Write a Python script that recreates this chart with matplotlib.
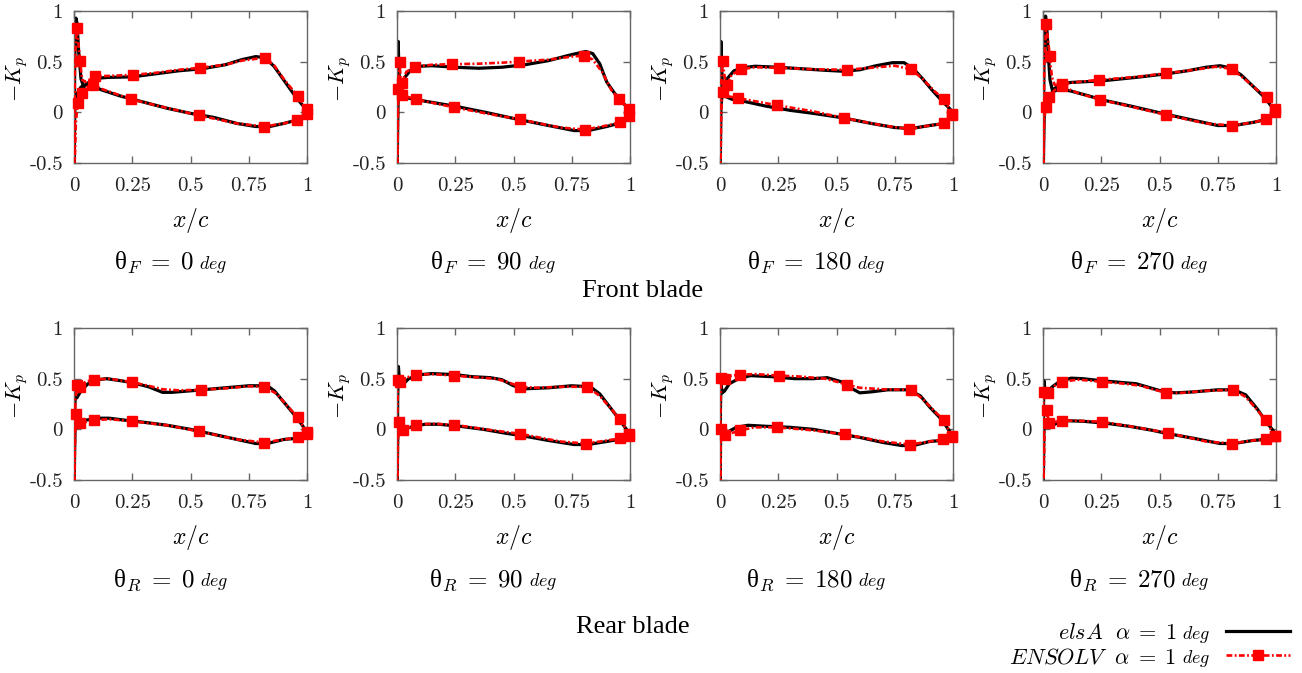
"""Front/rear blade -Kp distributions, elsA vs ENSOLV, alpha = 1 deg."""

import matplotlib

matplotlib.use("Agg")
import matplotlib.pyplot as plt
import numpy as np
from matplotlib.lines import Line2D

plt.rcParams["font.family"] = ["Liberation Serif", "DejaVu Serif"]
plt.rcParams["mathtext.fontset"] = "cm"

X_TICKS = [0.0, 0.25, 0.5, 0.75, 1.0]
X_TICK_LABELS = ["0", "0.25", "0.5", "0.75", "1"]
Y_TICKS = [-0.5, 0.0, 0.5, 1.0]
Y_TICK_LABELS = ["-0.5", "0", "0.5", "1"]

ANGLES = ["0", "90", "180", "270"]

# ---- front blade, theta_F = 0
F0_ELSA_UPPER = [(0.0, -0.8), (0.003, 0.5), (0.008, 0.93), (0.013, 0.88), (0.02, 0.6), (0.03, 0.33),
                 (0.042, 0.25), (0.06, 0.29), (0.09, 0.335), (0.15, 0.345), (0.25, 0.35), (0.35, 0.38),
                 (0.45, 0.41), (0.55, 0.43), (0.65, 0.47), (0.72, 0.52), (0.78, 0.55), (0.82, 0.54),
                 (0.86, 0.45), (0.9, 0.32), (0.94, 0.19), (0.97, 0.1), (1.0, 0.02)]
F0_ELSA_LOWER = [(0.0, -0.8), (0.003, 0.0), (0.008, 0.12), (0.015, 0.19), (0.03, 0.25), (0.05, 0.27),
                 (0.08, 0.26), (0.12, 0.22), (0.2, 0.16), (0.3, 0.1), (0.4, 0.04), (0.5, -0.01),
                 (0.6, -0.05), (0.7, -0.11), (0.78, -0.14), (0.84, -0.14), (0.9, -0.11), (0.95, -0.08),
                 (0.98, -0.04), (1.0, 0.0)]
F0_ENSOLV_UPPER = [(0.0, -0.8), (0.004, 0.5), (0.011, 0.83), (0.018, 0.7), (0.026, 0.51), (0.035, 0.32),
                   (0.05, 0.3), (0.09, 0.355), (0.15, 0.36), (0.255, 0.37), (0.35, 0.39), (0.45, 0.42),
                   (0.54, 0.44), (0.65, 0.47), (0.72, 0.51), (0.82, 0.54), (0.86, 0.46), (0.9, 0.33),
                   (0.96, 0.16), (1.0, 0.03)]
F0_ENSOLV_LOWER = [(0.0, -0.8), (0.008, -0.1), (0.016, 0.09), (0.033, 0.19), (0.055, 0.25), (0.083, 0.27),
                   (0.12, 0.23), (0.245, 0.13), (0.35, 0.07), (0.535, -0.03), (0.7, -0.11), (0.815, -0.14),
                   (0.9, -0.11), (0.955, -0.08), (1.0, -0.02)]
F0_ENSOLV_MARKS = [(0.011, 0.83), (0.026, 0.51), (0.09, 0.355), (0.255, 0.37), (0.54, 0.44), (0.82, 0.54),
                   (0.96, 0.16), (1.0, 0.03), (0.016, 0.09), (0.033, 0.19), (0.083, 0.27), (0.245, 0.13),
                   (0.535, -0.03), (0.815, -0.14), (0.955, -0.08), (1.0, -0.02)]

# ---- front blade, theta_F = 90
F90_ELSA_UPPER = [(0.0, -0.8), (0.003, 0.3), (0.005, 0.7), (0.008, 0.45), (0.012, 0.22), (0.02, 0.27),
                  (0.035, 0.35), (0.06, 0.42), (0.1, 0.455), (0.15, 0.46), (0.25, 0.445), (0.35, 0.435),
                  (0.45, 0.445), (0.55, 0.47), (0.65, 0.51), (0.75, 0.57), (0.81, 0.6), (0.84, 0.58),
                  (0.87, 0.48), (0.9, 0.3), (0.93, 0.2), (0.96, 0.11), (1.0, 0.03)]
F90_ELSA_LOWER = [(0.0, -0.8), (0.004, 0.1), (0.01, 0.2), (0.03, 0.15), (0.07, 0.13), (0.12, 0.11),
                  (0.25, 0.06), (0.38, 0.0), (0.52, -0.07), (0.65, -0.13), (0.76, -0.18), (0.82, -0.18),
                  (0.9, -0.14), (0.95, -0.11), (1.0, -0.04)]
F90_ENSOLV_UPPER = [(0.0, -0.8), (0.006, 0.3), (0.011, 0.5), (0.015, 0.35), (0.02, 0.29), (0.04, 0.4),
                    (0.076, 0.45), (0.15, 0.47), (0.238, 0.475), (0.35, 0.48), (0.45, 0.49), (0.524, 0.5),
                    (0.65, 0.52), (0.75, 0.55), (0.804, 0.56), (0.84, 0.52), (0.88, 0.4), (0.92, 0.22),
                    (0.953, 0.13), (0.997, 0.03)]
F90_ENSOLV_LOWER = [(0.0, -0.8), (0.003, 0.1), (0.006, 0.23), (0.02, 0.17), (0.08, 0.13), (0.16, 0.09),
                    (0.244, 0.05), (0.38, -0.01), (0.527, -0.07), (0.7, -0.15), (0.808, -0.17), (0.9, -0.13),
                    (0.957, -0.1), (0.997, -0.04)]
F90_ENSOLV_MARKS = [(0.011, 0.5), (0.02, 0.29), (0.076, 0.45), (0.238, 0.475), (0.524, 0.5), (0.804, 0.56),
                    (0.953, 0.13), (0.997, 0.03), (0.006, 0.23), (0.02, 0.17), (0.08, 0.13), (0.244, 0.05),
                    (0.527, -0.07), (0.808, -0.17), (0.957, -0.1), (0.997, -0.04)]

# ---- front blade, theta_F = 180
F180_ELSA_UPPER = [(0.0, -0.8), (0.002, 0.3), (0.004, 0.7), (0.007, 0.45), (0.012, 0.18), (0.02, 0.25),
                   (0.03, 0.33), (0.06, 0.41), (0.1, 0.44), (0.15, 0.455), (0.25, 0.445), (0.35, 0.43),
                   (0.45, 0.415), (0.53, 0.405), (0.6, 0.42), (0.67, 0.46), (0.74, 0.49), (0.79, 0.49),
                   (0.83, 0.43), (0.87, 0.33), (0.91, 0.22), (0.95, 0.12), (0.98, 0.05), (1.0, 0.0)]
F180_ELSA_LOWER = [(0.0, -0.8), (0.004, 0.05), (0.01, 0.2), (0.02, 0.16), (0.05, 0.13), (0.1, 0.11),
                   (0.2, 0.06), (0.3, 0.02), (0.4, -0.01), (0.53, -0.055), (0.65, -0.11), (0.75, -0.15),
                   (0.82, -0.16), (0.9, -0.13), (0.96, -0.11), (1.0, -0.03)]
F180_ENSOLV_UPPER = [(0.0, -0.8), (0.005, 0.3), (0.011, 0.51), (0.02, 0.35), (0.029, 0.27), (0.05, 0.37),
                     (0.09, 0.425), (0.15, 0.445), (0.254, 0.44), (0.4, 0.425), (0.544, 0.42), (0.65, 0.44),
                     (0.75, 0.46), (0.82, 0.425), (0.87, 0.33), (0.92, 0.21), (0.961, 0.13), (0.997, -0.02)]
F180_ENSOLV_LOWER = [(0.0, -0.8), (0.006, 0.1), (0.014, 0.2), (0.03, 0.16), (0.079, 0.14), (0.15, 0.11),
                     (0.244, 0.07), (0.4, 0.01), (0.531, -0.055), (0.7, -0.13), (0.813, -0.165), (0.9, -0.13),
                     (0.96, -0.11), (0.997, -0.03)]
F180_ENSOLV_MARKS = [(0.011, 0.51), (0.029, 0.27), (0.09, 0.425), (0.254, 0.44), (0.544, 0.42), (0.82, 0.425),
                     (0.961, 0.13), (0.997, -0.02), (0.014, 0.2), (0.079, 0.14), (0.244, 0.07), (0.531, -0.055),
                     (0.813, -0.165), (0.96, -0.11), (0.997, -0.03)]

# ---- front blade, theta_F = 270
F270_ELSA_UPPER = [(0.0, -0.8), (0.004, 0.5), (0.011, 0.95), (0.016, 0.85), (0.022, 0.6), (0.03, 0.32),
                   (0.04, 0.22), (0.06, 0.25), (0.08, 0.28), (0.12, 0.295), (0.25, 0.31), (0.4, 0.345),
                   (0.53, 0.38), (0.62, 0.41), (0.7, 0.445), (0.76, 0.46), (0.8, 0.44), (0.85, 0.37),
                   (0.9, 0.26), (0.95, 0.15), (0.98, 0.06), (1.0, 0.02)]
F270_ELSA_LOWER = [(0.0, -0.8), (0.005, 0.0), (0.015, 0.1), (0.04, 0.2), (0.07, 0.23), (0.12, 0.21),
                   (0.2, 0.16), (0.25, 0.125), (0.38, 0.06), (0.53, -0.02), (0.65, -0.08), (0.75, -0.13),
                   (0.82, -0.13), (0.9, -0.1), (0.96, -0.07), (1.0, 0.0)]
F270_ENSOLV_UPPER = [(0.0, -0.8), (0.006, 0.5), (0.014, 0.87), (0.02, 0.75), (0.029, 0.56), (0.038, 0.35),
                     (0.05, 0.27), (0.083, 0.28), (0.15, 0.3), (0.24, 0.32), (0.4, 0.35), (0.527, 0.385),
                     (0.65, 0.42), (0.74, 0.45), (0.81, 0.43), (0.87, 0.32), (0.92, 0.22), (0.96, 0.15),
                     (0.996, 0.03)]
F270_ENSOLV_LOWER = [(0.0, -0.8), (0.005, -0.1), (0.011, 0.05), (0.026, 0.15), (0.05, 0.22), (0.083, 0.255),
                     (0.15, 0.19), (0.245, 0.125), (0.38, 0.055), (0.53, -0.026), (0.7, -0.11), (0.81, -0.13),
                     (0.9, -0.1), (0.957, -0.07), (0.996, 0.0)]
F270_ENSOLV_MARKS = [(0.014, 0.87), (0.029, 0.56), (0.083, 0.28), (0.24, 0.32), (0.527, 0.385), (0.81, 0.43),
                     (0.96, 0.15), (0.996, 0.03), (0.011, 0.05), (0.026, 0.15), (0.083, 0.255), (0.245, 0.125),
                     (0.53, -0.026), (0.81, -0.13), (0.957, -0.07), (0.996, 0.0)]

# ---- rear blade, theta_R = 0
R0_ELSA_UPPER = [(0.0, -0.8), (0.003, 0.2), (0.006, 0.35), (0.012, 0.31), (0.03, 0.38), (0.06, 0.45),
                 (0.1, 0.49), (0.14, 0.5), (0.2, 0.48), (0.25, 0.46), (0.32, 0.42), (0.38, 0.365),
                 (0.42, 0.365), (0.5, 0.38), (0.55, 0.39), (0.65, 0.41), (0.75, 0.43), (0.83, 0.43),
                 (0.86, 0.38), (0.9, 0.27), (0.94, 0.16), (0.98, 0.04), (1.0, -0.04)]
R0_ELSA_LOWER = [(0.0, -0.8), (0.004, 0.05), (0.01, 0.08), (0.05, 0.09), (0.1, 0.11), (0.15, 0.11),
                 (0.22, 0.09), (0.3, 0.07), (0.4, 0.04), (0.5, 0.0), (0.6, -0.05), (0.7, -0.1),
                 (0.78, -0.14), (0.83, -0.14), (0.9, -0.1), (0.95, -0.09), (1.0, -0.05)]
R0_ENSOLV_UPPER = [(0.0, -0.8), (0.006, 0.3), (0.014, 0.44), (0.025, 0.42), (0.05, 0.47), (0.087, 0.49),
                   (0.15, 0.5), (0.25, 0.465), (0.32, 0.43), (0.38, 0.395), (0.45, 0.385), (0.543, 0.39),
                   (0.65, 0.405), (0.75, 0.425), (0.817, 0.42), (0.87, 0.35), (0.92, 0.22), (0.96, 0.12),
                   (1.0, -0.03)]
R0_ENSOLV_LOWER = [(0.0, -0.8), (0.005, 0.05), (0.01, 0.15), (0.025, 0.06), (0.084, 0.09), (0.15, 0.1),
                   (0.25, 0.08), (0.4, 0.04), (0.535, -0.02), (0.7, -0.1), (0.814, -0.13), (0.9, -0.1),
                   (0.96, -0.08), (1.0, -0.05)]
R0_ENSOLV_MARKS = [(0.014, 0.44), (0.025, 0.42), (0.087, 0.49), (0.25, 0.465), (0.543, 0.39), (0.817, 0.42),
                   (0.96, 0.12), (1.0, -0.03), (0.01, 0.15), (0.025, 0.06), (0.084, 0.09), (0.25, 0.08),
                   (0.535, -0.02), (0.814, -0.13), (0.96, -0.08), (1.0, -0.05)]

# ---- rear blade, theta_R = 90
R90_ELSA_UPPER = [(0.0, -0.8), (0.003, 0.3), (0.006, 0.62), (0.01, 0.5), (0.02, 0.43), (0.05, 0.5),
                  (0.1, 0.54), (0.15, 0.55), (0.25, 0.54), (0.32, 0.52), (0.4, 0.51), (0.45, 0.49),
                  (0.5, 0.43), (0.55, 0.4), (0.65, 0.41), (0.75, 0.43), (0.83, 0.42), (0.87, 0.35),
                  (0.92, 0.2), (0.96, 0.08), (1.0, -0.05)]
R90_ELSA_LOWER = [(0.0, -0.8), (0.003, -0.1), (0.006, 0.06), (0.015, -0.01), (0.03, 0.0), (0.07, 0.03),
                  (0.12, 0.05), (0.18, 0.05), (0.27, 0.03), (0.37, 0.0), (0.47, -0.04), (0.53, -0.06),
                  (0.65, -0.11), (0.76, -0.15), (0.82, -0.15), (0.9, -0.12), (0.95, -0.1), (1.0, -0.06)]
R90_ENSOLV_UPPER = [(0.0, -0.8), (0.002, 0.2), (0.004, 0.49), (0.015, 0.47), (0.04, 0.51), (0.08, 0.54),
                    (0.15, 0.545), (0.245, 0.53), (0.33, 0.515), (0.42, 0.5), (0.47, 0.47), (0.53, 0.42),
                    (0.6, 0.41), (0.7, 0.42), (0.817, 0.42), (0.87, 0.33), (0.92, 0.2), (0.956, 0.1),
                    (0.997, -0.05)]
R90_ENSOLV_LOWER = [(0.0, -0.8), (0.004, -0.1), (0.008, 0.07), (0.025, -0.01), (0.08, 0.045), (0.15, 0.055),
                    (0.245, 0.045), (0.38, 0.0), (0.53, -0.045), (0.7, -0.12), (0.81, -0.14), (0.9, -0.11),
                    (0.957, -0.09), (0.997, -0.07)]
R90_ENSOLV_MARKS = [(0.004, 0.49), (0.015, 0.47), (0.08, 0.54), (0.245, 0.53), (0.53, 0.42), (0.817, 0.42),
                    (0.956, 0.1), (0.997, -0.05), (0.008, 0.07), (0.025, -0.01), (0.08, 0.045), (0.245, 0.045),
                    (0.53, -0.045), (0.81, -0.14), (0.957, -0.09), (0.997, -0.07)]

# ---- rear blade, theta_R = 180
R180_ELSA_UPPER = [(0.0, -0.8), (0.002, 0.2), (0.004, 0.45), (0.01, 0.36), (0.02, 0.38), (0.04, 0.45),
                   (0.08, 0.5), (0.13, 0.53), (0.22, 0.52), (0.32, 0.5), (0.4, 0.5), (0.46, 0.51),
                   (0.52, 0.47), (0.56, 0.41), (0.6, 0.36), (0.65, 0.37), (0.72, 0.39), (0.81, 0.39),
                   (0.86, 0.33), (0.9, 0.22), (0.95, 0.1), (0.98, 0.0), (1.0, -0.06)]
R180_ELSA_LOWER = [(0.0, -0.8), (0.003, 0.0), (0.015, -0.06), (0.03, -0.03), (0.07, 0.02), (0.12, 0.04),
                   (0.2, 0.03), (0.3, 0.02), (0.4, 0.0), (0.5, -0.04), (0.6, -0.08), (0.7, -0.13),
                   (0.78, -0.16), (0.83, -0.16), (0.9, -0.12), (0.95, -0.11), (1.0, -0.07)]
R180_ENSOLV_UPPER = [(0.0, -0.8), (0.002, 0.2), (0.005, 0.51), (0.02, 0.5), (0.05, 0.53), (0.085, 0.54),
                     (0.15, 0.545), (0.255, 0.53), (0.35, 0.52), (0.45, 0.5), (0.5, 0.47), (0.545, 0.44),
                     (0.6, 0.41), (0.7, 0.395), (0.82, 0.39), (0.87, 0.3), (0.92, 0.18), (0.96, 0.09),
                     (0.997, -0.07)]
R180_ENSOLV_LOWER = [(0.0, -0.8), (0.003, 0.0), (0.02, -0.06), (0.085, -0.01), (0.15, 0.02), (0.245, 0.02),
                     (0.4, -0.01), (0.535, -0.05), (0.7, -0.12), (0.815, -0.15), (0.9, -0.12), (0.955, -0.1),
                     (0.997, -0.08)]
R180_ENSOLV_MARKS = [(0.005, 0.51), (0.02, 0.5), (0.085, 0.54), (0.255, 0.53), (0.545, 0.44), (0.82, 0.39),
                     (0.96, 0.09), (0.997, -0.07), (0.003, 0.0), (0.02, -0.06), (0.085, -0.01), (0.245, 0.02),
                     (0.535, -0.05), (0.815, -0.15), (0.955, -0.1), (0.997, -0.08)]

# ---- rear blade, theta_R = 270
R270_ELSA_UPPER = [(0.0, -0.8), (0.002, 0.2), (0.004, 0.48), (0.01, 0.36), (0.02, 0.37), (0.04, 0.42),
                   (0.07, 0.47), (0.12, 0.505), (0.17, 0.5), (0.25, 0.48), (0.35, 0.46), (0.4, 0.45),
                   (0.46, 0.41), (0.52, 0.37), (0.57, 0.36), (0.65, 0.37), (0.75, 0.39), (0.82, 0.39),
                   (0.87, 0.34), (0.92, 0.2), (0.95, 0.1), (0.99, -0.02), (1.0, -0.06)]
R270_ELSA_LOWER = [(0.0, -0.8), (0.004, 0.0), (0.01, 0.05), (0.02, 0.02), (0.06, 0.06), (0.1, 0.085),
                   (0.17, 0.08), (0.27, 0.06), (0.37, 0.03), (0.47, -0.01), (0.53, -0.04), (0.65, -0.09),
                   (0.76, -0.14), (0.82, -0.14), (0.9, -0.11), (0.95, -0.1), (1.0, -0.06)]
R270_ENSOLV_UPPER = [(0.0, -0.8), (0.002, 0.1), (0.004, 0.37), (0.02, 0.36), (0.05, 0.43), (0.083, 0.47),
                     (0.15, 0.49), (0.253, 0.47), (0.35, 0.45), (0.42, 0.43), (0.48, 0.39), (0.53, 0.36),
                     (0.6, 0.36), (0.7, 0.38), (0.817, 0.39), (0.87, 0.32), (0.92, 0.19), (0.955, 0.09),
                     (0.997, -0.07)]
R270_ENSOLV_LOWER = [(0.0, -0.8), (0.008, 0.1), (0.016, 0.19), (0.026, 0.065), (0.083, 0.085), (0.15, 0.085),
                     (0.253, 0.075), (0.4, 0.02), (0.535, -0.035), (0.7, -0.12), (0.81, -0.14), (0.9, -0.11),
                     (0.955, -0.1), (0.997, -0.07)]
R270_ENSOLV_MARKS = [(0.004, 0.37), (0.02, 0.36), (0.083, 0.47), (0.253, 0.47), (0.53, 0.36), (0.817, 0.39),
                     (0.955, 0.09), (0.997, -0.07), (0.016, 0.19), (0.026, 0.065), (0.083, 0.085), (0.253, 0.075),
                     (0.535, -0.035), (0.81, -0.14), (0.955, -0.1), (0.997, -0.07)]

FRONT_PANELS = [
    (F0_ELSA_UPPER, F0_ELSA_LOWER, F0_ENSOLV_UPPER, F0_ENSOLV_LOWER, F0_ENSOLV_MARKS),
    (F90_ELSA_UPPER, F90_ELSA_LOWER, F90_ENSOLV_UPPER, F90_ENSOLV_LOWER, F90_ENSOLV_MARKS),
    (F180_ELSA_UPPER, F180_ELSA_LOWER, F180_ENSOLV_UPPER, F180_ENSOLV_LOWER, F180_ENSOLV_MARKS),
    (F270_ELSA_UPPER, F270_ELSA_LOWER, F270_ENSOLV_UPPER, F270_ENSOLV_LOWER, F270_ENSOLV_MARKS),
]
REAR_PANELS = [
    (R0_ELSA_UPPER, R0_ELSA_LOWER, R0_ENSOLV_UPPER, R0_ENSOLV_LOWER, R0_ENSOLV_MARKS),
    (R90_ELSA_UPPER, R90_ELSA_LOWER, R90_ENSOLV_UPPER, R90_ENSOLV_LOWER, R90_ENSOLV_MARKS),
    (R180_ELSA_UPPER, R180_ELSA_LOWER, R180_ENSOLV_UPPER, R180_ENSOLV_LOWER, R180_ENSOLV_MARKS),
    (R270_ELSA_UPPER, R270_ELSA_LOWER, R270_ENSOLV_UPPER, R270_ENSOLV_LOWER, R270_ENSOLV_MARKS),
]

FIG_W, FIG_H = 1302, 673
AX_LEFTS = [74, 397, 720, 1043]
AX_W, AX_H = 233, 152
ROW_TOPS = [11, 328]
FRAME_COLOR = "#666666"
RED = "#ff0000"
RED_DASHES = (2.2, 0.9, 0.7, 0.9)
MARKER_SIZE = 7.0


def closed_loop(upper, lower):
    """上面(後縁→前縁)と下面(前縁→後縁)をつないだ座標列。"""
    up = np.array(upper)[::-1]
    lo = np.array(lower)
    xy = np.vstack([up, lo[1:]])
    return xy[:, 0], xy[:, 1]


def style_axes(ax):
    ax.set_xlim(0.0, 1.0)
    ax.set_ylim(-0.5, 1.0)
    ax.set_xticks(X_TICKS)
    ax.set_xticklabels(X_TICK_LABELS, fontfamily="cmr10", fontsize=15)
    ax.set_yticks(Y_TICKS)
    ax.set_yticklabels(Y_TICK_LABELS, fontfamily="cmr10", fontsize=15)
    ax.tick_params(axis="both", direction="in", top=True, right=True, length=5,
                   width=1.0, color=FRAME_COLOR, labelcolor="#222222")
    ax.tick_params(axis="x", pad=10)
    ax.tick_params(axis="y", pad=8)
    for spine in ax.spines.values():
        spine.set_color(FRAME_COLOR)
        spine.set_linewidth(1.0)
    ax.set_xlabel(r"$x/c$", fontsize=17)
    ax.xaxis.set_label_coords(0.5, -0.28)
    ax.set_ylabel(r"$-K_p$", fontsize=16)
    ax.yaxis.set_label_coords(-0.19, 0.55)


def draw_panel(ax, elsa_upper, elsa_lower, ens_upper, ens_lower, ens_marks):
    ex, ey = closed_loop(elsa_upper, elsa_lower)
    ax.plot(ex, ey, color="black", lw=2.3, zorder=2)
    nx, ny = closed_loop(ens_upper, ens_lower)
    ax.plot(nx, ny, color=RED, lw=1.9, dashes=RED_DASHES, zorder=3)
    marks = np.array(ens_marks)
    ax.plot(marks[:, 0], marks[:, 1], ls="none", marker="s", ms=MARKER_SIZE,
            color=RED, zorder=4, clip_on=False)
    style_axes(ax)


def add_subtitle(ax, blade, angle):
    y_base = -0.70
    main = ax.text(0.5 - 37.0 / AX_W, y_base, "θ$_{%s}\\;=\\;%s$" % (blade, angle),
                   transform=ax.transAxes, ha="center", va="baseline", fontsize=18)
    ax.annotate(r"$deg$", xy=(1.0, y_base), xycoords=(main, ax.transAxes),
                xytext=(4, 0), textcoords="offset points",
                ha="left", va="baseline", fontsize=13)


fig = plt.figure(figsize=(FIG_W / 100, FIG_H / 100), dpi=100)

for row, (panels, blade) in enumerate([(FRONT_PANELS, "F"), (REAR_PANELS, "R")]):
    top = ROW_TOPS[row]
    for col, data in enumerate(panels):
        rect = [AX_LEFTS[col] / FIG_W, 1 - (top + AX_H) / FIG_H, AX_W / FIG_W, AX_H / FIG_H]
        ax = fig.add_axes(rect)
        draw_panel(ax, *data)
        add_subtitle(ax, blade, ANGLES[col])

fig.text(643 / FIG_W, 1 - 291 / FIG_H, "Front blade", ha="center", va="center", fontsize=19)
fig.text(633 / FIG_W, 1 - 627 / FIG_H, "Rear blade", ha="center", va="center", fontsize=19)

handles = [
    Line2D([], [], color="black", lw=2.3),
    Line2D([], [], color=RED, lw=1.9, dashes=RED_DASHES, marker="s", ms=MARKER_SIZE),
]
labels = [r"$elsA\ \ \alpha\;=\;1$", r"$ENSOLV\ \ \alpha\;=\;1$"]
legend = fig.legend(handles, labels, loc="lower right",
                    bbox_to_anchor=(1290 / FIG_W, 5 / FIG_H),
                    frameon=False, markerfirst=False, numpoints=1, handlelength=2.9,
                    handletextpad=2.2, labelspacing=0.15, fontsize=16, borderpad=0.0,
                    borderaxespad=0.0)
# 凡例の文字位置が決まってから描くよう zorder を凡例より上にする
for label_text in legend.get_texts():
    fig.add_artist(plt.Annotation(
        r"$deg$", xy=(1.0, 0.0), xycoords=label_text,
        xytext=(4, 3.5), textcoords="offset points",
        ha="left", va="baseline", fontsize=13, zorder=10,
    ))

fig.savefig("out.png", dpi=100)
